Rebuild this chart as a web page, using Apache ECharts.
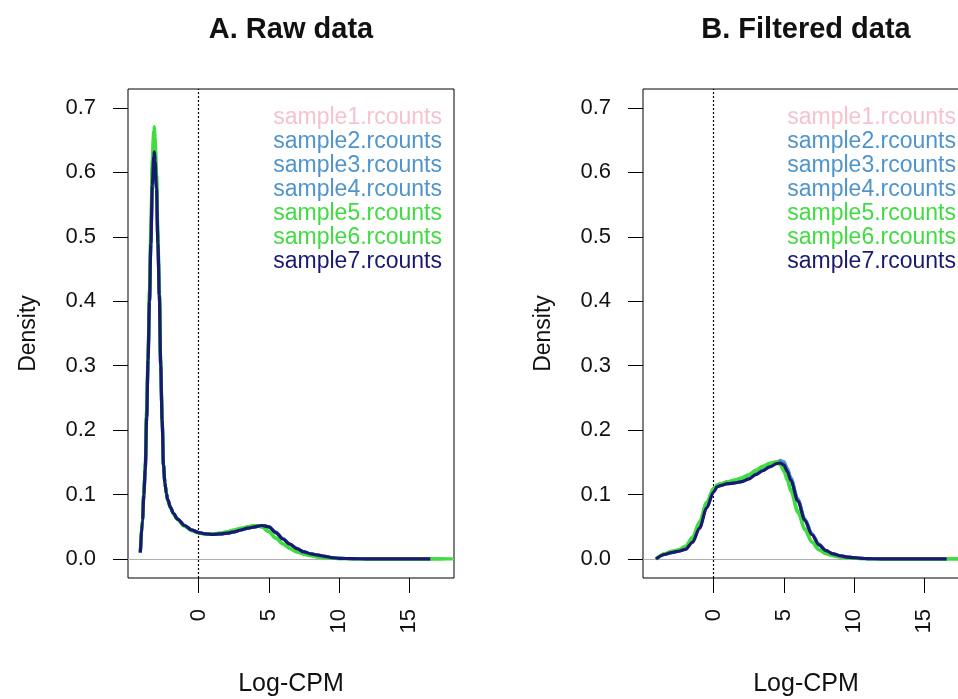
<!DOCTYPE html>
<html>
<head>
<meta charset="utf-8">
<script src="https://cdn.jsdelivr.net/npm/echarts@6/dist/echarts.min.js"></script>
<style>html,body{margin:0;padding:0;background:#fff}#c{width:958px;height:699px}</style>
</head>
<body>
<div id="c"></div>
<script>
// ---------- data ----------
const sampleNames = ['sample1.rcounts','sample2.rcounts','sample3.rcounts','sample4.rcounts','sample5.rcounts','sample6.rcounts','sample7.rcounts'];
const sampleColors = ['#F5C3CF','#4F94CD','#4F94CD','#4F94CD','#40DC40','#40DC40','#191970'];
const panelTitles = ['A. Raw data','B. Filtered data'];
const xTickValues = [0,5,10,15];
const yTickValues = [0,0.1,0.2,0.3,0.4,0.5,0.6,0.7];

// Panel A: raw data density (Log-CPM grid)
const xRaw = [-4.15,-4.0,-3.9,-3.8,-3.7,-3.6,-3.5,-3.4,-3.3,-3.2,
  -3.15,-3.1,-3.0,-2.9,-2.8,-2.7,-2.6,-2.5,-2.4,-2.3,
  -2.2,-2.0,-1.8,-1.5,-1.0,-0.5,0,0.5,1,1.5,
  2,2.5,3,3.5,4,4.5,5,5.5,6,6.5,
  7,7.5,8,8.5,9,9.5,10,11,12,13,
  14,15,16,16.5,17,17.5,18.1];
const raw1 = [0.010,0.060,0.099,0.139,0.219,0.308,0.398,0.487,0.577,0.622,
  0.630,0.616,0.573,0.488,0.409,0.299,0.214,0.145,0.118,0.102,
  0.092,0.080,0.071,0.062,0.052,0.045,0.041,0.039,0.038,0.039,
  0.040,0.042,0.045,0.048,0.050,0.052,0.050,0.041,0.031,0.023,
  0.016,0.011,0.008,0.006,0.004,0.002,0.001,0.0005,0.0003,0.0002,
  0.0001,0.0001,0.0001,0.0001,null,null,null];
const raw2 = [0.010,0.061,0.101,0.142,0.222,0.313,0.404,0.495,0.586,0.632,
  0.640,0.625,0.581,0.495,0.413,0.302,0.216,0.146,0.118,0.102,
  0.092,0.080,0.071,0.062,0.052,0.045,0.041,0.039,0.038,0.039,
  0.040,0.042,0.045,0.048,0.050,0.052,0.050,0.041,0.031,0.023,
  0.016,0.011,0.008,0.006,0.004,0.002,0.001,0.0005,0.0003,0.0002,
  0.0001,0.0001,0.0001,0.0001,null,null,null];
const raw3 = [0.010,0.060,0.100,0.141,0.221,0.311,0.402,0.492,0.583,0.629,
  0.636,0.621,0.578,0.492,0.411,0.301,0.215,0.145,0.118,0.102,
  0.092,0.080,0.071,0.062,0.052,0.045,0.041,0.039,0.038,0.039,
  0.040,0.042,0.045,0.048,0.050,0.052,0.050,0.042,0.032,0.023,
  0.016,0.011,0.008,0.006,0.004,0.002,0.001,0.0005,0.0003,0.0002,
  0.0001,0.0001,0.0001,0.0001,null,null,null];
const raw4 = [0.010,0.059,0.099,0.139,0.219,0.309,0.399,0.488,0.578,0.621,
  0.628,0.614,0.572,0.488,0.409,0.299,0.214,0.145,0.118,0.102,
  0.092,0.080,0.071,0.062,0.052,0.045,0.041,0.039,0.038,0.039,
  0.040,0.042,0.045,0.048,0.050,0.052,0.050,0.041,0.031,0.023,
  0.016,0.011,0.008,0.006,0.004,0.002,0.001,0.0005,0.0003,0.0002,
  0.0001,0.0001,0.0001,0.0001,null,null,null];
const raw5 = [0.012,0.065,0.105,0.150,0.235,0.325,0.420,0.520,0.620,0.665,
  0.671,0.655,0.600,0.510,0.420,0.310,0.220,0.148,0.118,0.101,
  0.091,0.079,0.070,0.061,0.051,0.044,0.040,0.039,0.039,0.040,
  0.042,0.045,0.048,0.050,0.052,0.050,0.042,0.032,0.023,0.016,
  0.011,0.007,0.005,0.003,0.002,0.001,0.0007,0.0004,0.0003,0.0002,
  0.0001,0.0001,0.0001,0.0001,0.0001,0.0001,0.0001];
const raw6 = [0.011,0.063,0.103,0.147,0.230,0.320,0.415,0.512,0.610,0.658,
  0.664,0.648,0.596,0.505,0.416,0.308,0.218,0.147,0.118,0.101,
  0.091,0.079,0.070,0.061,0.051,0.044,0.040,0.039,0.039,0.040,
  0.042,0.045,0.047,0.050,0.052,0.050,0.043,0.033,0.024,0.017,
  0.011,0.008,0.005,0.003,0.002,0.001,0.0007,0.0004,0.0003,0.0002,
  0.0001,0.0001,0.0001,0.0001,0.0001,0.0001,null];
const raw7 = [0.010,0.060,0.100,0.140,0.220,0.310,0.400,0.490,0.580,0.625,
  0.632,0.618,0.575,0.490,0.410,0.300,0.215,0.145,0.118,0.102,
  0.092,0.080,0.071,0.062,0.052,0.045,0.041,0.039,0.038,0.039,
  0.040,0.042,0.045,0.048,0.050,0.052,0.050,0.041,0.031,0.023,
  0.016,0.011,0.008,0.006,0.004,0.002,0.001,0.0005,0.0003,0.0002,
  0.0001,0.0001,0.0001,0.0001,null,null,null];

// Panel B: filtered data density
const xFilt = [-4.1,-3.5,-3.0,-2.5,-2.0,-1.5,-1.0,-0.5,0,0.25,
  0.5,1.0,1.5,2.0,2.5,3.0,3.5,4.0,4.5,4.75,
  5.0,5.25,5.5,6.0,6.5,7.0,7.5,8.0,8.5,9.0,
  9.5,10,10.5,11,12,13,14,15,16,16.6,
  17.2,17.8,18.2];
const filt1 = [0.000,0.007,0.010,0.012,0.016,0.027,0.050,0.081,0.105,0.112,
  0.114,0.117,0.118,0.120,0.125,0.132,0.138,0.144,0.149,0.150,
  0.147,0.137,0.123,0.091,0.060,0.038,0.022,0.013,0.008,0.005,
  0.003,0.002,0.001,0.0005,0.0003,0.0002,0.0001,0.0001,0.0001,0.0001,
  null,null,null];
const filt2 = [0.000,0.007,0.011,0.013,0.017,0.029,0.052,0.083,0.106,0.113,
  0.115,0.118,0.119,0.121,0.126,0.133,0.139,0.145,0.150,0.153,
  0.151,0.141,0.126,0.093,0.062,0.039,0.023,0.013,0.008,0.005,
  0.003,0.002,0.001,0.0005,0.0003,0.0002,0.0001,0.0001,0.0001,0.0001,
  null,null,null];
const filt3 = [0.000,0.007,0.011,0.013,0.017,0.030,0.053,0.084,0.107,0.113,
  0.115,0.118,0.119,0.121,0.126,0.133,0.139,0.145,0.150,0.152,
  0.150,0.140,0.125,0.092,0.061,0.039,0.023,0.013,0.008,0.005,
  0.003,0.002,0.001,0.0005,0.0003,0.0002,0.0001,0.0001,0.0001,0.0001,
  null,null,null];
const filt4 = [0.000,0.007,0.010,0.012,0.016,0.028,0.051,0.082,0.105,0.112,
  0.114,0.117,0.118,0.120,0.125,0.132,0.138,0.144,0.149,0.151,
  0.149,0.139,0.124,0.092,0.061,0.038,0.022,0.013,0.008,0.005,
  0.003,0.002,0.001,0.0005,0.0003,0.0002,0.0001,0.0001,0.0001,0.0001,
  null,null,null];
const filt5 = [0.000,0.008,0.012,0.014,0.020,0.034,0.058,0.088,0.110,0.115,
  0.117,0.120,0.122,0.125,0.130,0.137,0.143,0.148,0.150,0.146,
  0.136,0.122,0.105,0.072,0.045,0.026,0.014,0.008,0.005,0.003,
  0.002,0.001,0.0007,0.0004,0.0003,0.0002,0.0001,0.0001,0.0001,0.0001,
  0.0001,0.0001,0.0001];
const filt6 = [0.000,0.008,0.012,0.014,0.019,0.033,0.057,0.087,0.109,0.115,
  0.117,0.120,0.123,0.126,0.131,0.138,0.144,0.149,0.151,0.148,
  0.139,0.125,0.108,0.075,0.047,0.027,0.015,0.009,0.005,0.003,
  0.002,0.001,0.0007,0.0004,0.0003,0.0002,0.0001,0.0001,0.0001,0.0001,
  0.0001,0.0001,0.0001];
const filt7 = [0.000,0.007,0.010,0.012,0.015,0.026,0.048,0.079,0.104,0.112,
  0.114,0.117,0.118,0.120,0.124,0.131,0.137,0.143,0.148,0.149,
  0.146,0.136,0.122,0.090,0.060,0.038,0.022,0.013,0.008,0.005,
  0.003,0.002,0.001,0.0005,0.0003,0.0002,0.0001,0.0001,0.0001,0.0001,
  null,null,null];

const rawSets = [raw1, raw2, raw3, raw4, raw5, raw6, raw7];
const filtSets = [filt1, filt2, filt3, filt4, filt5, filt6, filt7];

// ---------- chart ----------
const FONT = 'Liberation Sans, Arial, sans-serif';
const chart = echarts.init(document.getElementById('c'), null, { renderer: 'canvas' });

const grids = [
  { left: 128, top: 89, width: 326, height: 489 },
  { left: 643, top: 89, width: 326, height: 489 }
];
const X_MIN = -5.03, X_MAX = 18.19, Y_MIN = -0.0295, Y_MAX = 0.7295;

function xAxisFor(i) {
  return {
    type: 'value', gridIndex: i, min: X_MIN, max: X_MAX, position: 'bottom',
    name: 'Log-CPM', nameLocation: 'middle', nameGap: 94,
    nameTextStyle: { fontFamily: FONT, fontSize: 25, color: '#111' },
    axisLine: { show: false, onZero: false },
    splitLine: { show: false },
    axisTick: { show: true, inside: false, length: 15, customValues: xTickValues, lineStyle: { color: '#000', width: 1 } },
    axisLabel: { show: true, rotate: 90, margin: 31, customValues: xTickValues, fontFamily: FONT, fontSize: 22, color: '#111' }
  };
}
function yAxisFor(i) {
  return {
    type: 'value', gridIndex: i, min: Y_MIN, max: Y_MAX, position: 'left',
    name: 'Density', nameLocation: 'middle', nameGap: 88, nameRotate: 90,
    nameTextStyle: { fontFamily: FONT, fontSize: 23, color: '#111' },
    axisLine: { show: false, onZero: false },
    splitLine: { show: false },
    axisTick: { show: true, inside: false, length: 15, customValues: yTickValues, lineStyle: { color: '#000', width: 1 } },
    axisLabel: { show: true, margin: 32, customValues: yTickValues, fontFamily: FONT, fontSize: 22, color: '#111',
      formatter: v => Number(v).toFixed(1) }
  };
}

const series = [];
[[xRaw, rawSets], [xFilt, filtSets]].forEach(([xs, sets], gi) => {
  // reference lines: gray horizontal at 0, dotted vertical at 0
  series.push({
    type: 'line', name: '_ref' + gi, xAxisIndex: gi, yAxisIndex: gi, data: [], silent: true, z: 1,
    markLine: {
      silent: true, symbol: 'none', label: { show: false }, animation: false,
      data: [
        { yAxis: 0, lineStyle: { color: '#b0b0b0', width: 1, type: 'solid' } },
        { xAxis: 0, lineStyle: { color: '#000', width: 1.2, type: [2, 2] } }
      ]
    }
  });
  sets.forEach((ys, si) => {
    series.push({
      type: 'line', name: sampleNames[si], xAxisIndex: gi, yAxisIndex: gi,
      data: xs.map((x, k) => [x, ys[k]]),
      showSymbol: false, smooth: 0.3, smoothMonotone: 'x', connectNulls: false,
      lineStyle: { color: sampleColors[si], width: 3.2 },
      itemStyle: { color: sampleColors[si] },
      z: 2 + si, animation: false
    });
  });
});

function legendFor(right) {
  return {
    orient: 'vertical', right: right, top: 106, padding: 0,
    icon: 'none', itemWidth: 0, itemHeight: 0, itemGap: 0, selectedMode: false,
    textStyle: { fontFamily: FONT, fontSize: 23, lineHeight: 24 },
    data: sampleNames.map((n, i) => ({ name: n, textStyle: { color: sampleColors[i] } }))
  };
}

chart.setOption({
  backgroundColor: '#fff',
  animation: false,
  title: panelTitles.map((t, i) => ({
    text: t, left: grids[i].left + grids[i].width / 2, top: 15, textAlign: 'center', padding: 0,
    textStyle: { fontFamily: FONT, fontSize: 29, fontWeight: 'bold', color: '#111' }
  })),
  legend: [legendFor(516), legendFor(2)],
  grid: grids.map(g => Object.assign({ show: true, borderColor: '#000', borderWidth: 1, backgroundColor: 'transparent',
    containLabel: false, outerBoundsMode: 'none' }, g)),
  xAxis: [xAxisFor(0), xAxisFor(1)],
  yAxis: [yAxisFor(0), yAxisFor(1)],
  series: series
});
</script>
</body>
</html>
